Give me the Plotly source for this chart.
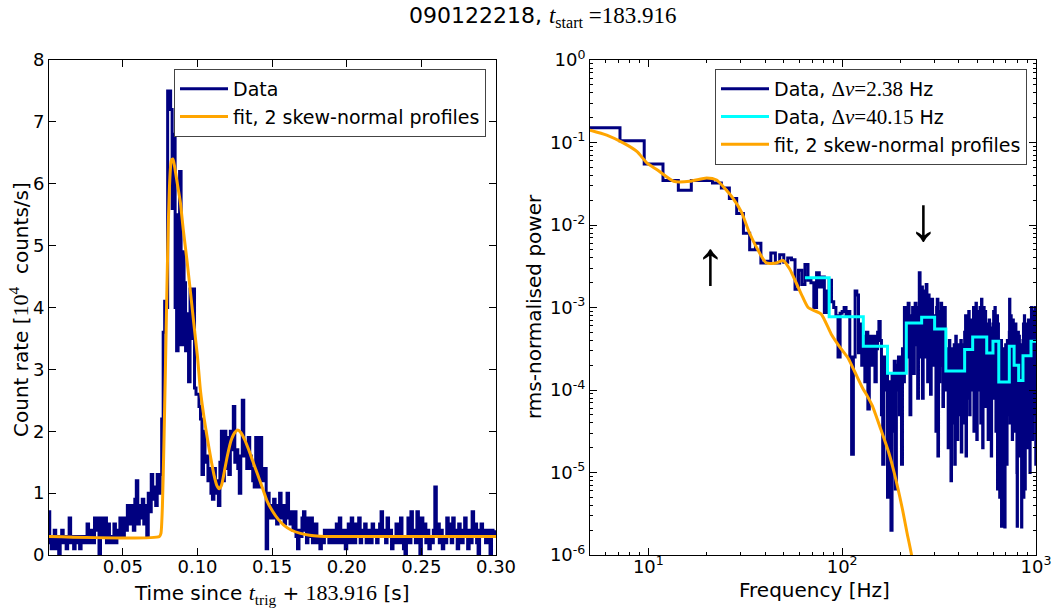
import math
import plotly.graph_objects as go

# ---------------- Left panel: light curve ----------------
BIN_S = 0.001
count_rate = [
    0.7,0.2,0.1,0.3,0.4,0.1,0.3,0.0,0.2,0.4,
    0.2,0.3,0.1,0.2,0.6,0.2,0.3,0.1,0.2,0.3,
    0.2,0.1,0.3,0.2,0.3,0.2,0.5,0.2,0.3,0.4,
    0.2,0.6,0.4,0.6,0.0,0.5,0.6,0.3,0.6,0.2,
    0.5,0.3,0.2,0.3,0.5,0.2,0.4,0.3,0.6,0.4,
    0.3,0.6,0.4,0.8,0.5,0.8,0.7,0.4,0.9,1.2,
    0.5,0.8,0.6,0.9,0.5,0.8,0.3,1.0,0.7,1.3,
    0.9,1.1,0.8,1.3,1.0,1.3,2.2,3.6,4.1,4.0,
    7.5,7.5,7.2,5.6,6.8,4.0,3.3,5.5,6.2,3.4,
    4.9,4.4,3.3,3.9,2.8,4.3,3.5,4.3,2.7,2.6,
    2.6,2.4,2.2,1.3,2.0,1.5,1.6,1.2,1.4,1.0,
    0.9,1.4,1.0,1.2,0.8,1.5,2.0,1.2,2.0,1.4,
    1.9,1.3,2.0,1.7,2.4,1.5,1.7,1.4,1.0,1.6,
    2.5,1.6,1.8,1.4,1.9,1.6,1.4,1.2,1.1,1.9,
    1.3,1.1,1.9,1.3,1.2,1.4,0.1,1.0,0.6,0.8,
    0.6,0.9,0.6,0.5,0.8,1.0,0.6,0.8,0.5,0.7,
    1.0,0.6,0.5,0.7,0.4,0.7,0.3,0.1,0.4,0.3,
    0.6,0.7,0.4,0.2,0.6,0.3,0.6,0.2,0.4,0.5,
    0.2,0.3,0.1,0.3,0.2,0.4,0.3,0.4,0.2,0.3,
    0.4,0.2,0.3,0.5,0.2,0.6,0.3,0.2,0.4,0.1,
    0.3,0.5,0.2,0.6,0.3,0.2,0.5,0.3,0.6,0.2,
    0.4,0.3,0.5,0.2,0.4,0.3,0.2,0.5,0.3,0.4,
    0.2,0.3,0.5,0.7,0.3,0.4,0.2,0.6,0.3,0.4,
    0.1,0.3,0.2,0.5,0.3,0.2,0.6,0.3,0.1,0.0,
    0.3,0.6,0.2,0.7,0.3,0.4,0.2,0.7,0.3,0.0,
    0.6,0.3,0.5,0.2,0.4,0.1,0.3,0.2,0.4,1.1,
    0.3,0.5,0.2,0.4,0.1,0.3,0.2,0.6,0.3,0.5,
    0.2,0.6,0.3,0.4,0.1,0.5,0.3,0.2,0.4,0.6,
    0.3,0.1,0.4,0.2,0.7,0.3,0.5,0.2,0.0,0.4,
    0.5,0.3,0.4,0.2,0.4,0.3,0.0,0.4,0.3,0.4,
]
time_s = [BIN_S * i for i in range(len(count_rate))]

fit_time = [0.000, 0.0745, 0.0755, 0.0765, 0.0775, 0.0785, 0.0795, 0.0805, 0.0815,
            0.0825, 0.0835, 0.0845, 0.0865, 0.0885, 0.0905, 0.0930, 0.0955, 0.0975,
            0.1000, 0.1020, 0.1045, 0.1065, 0.1090, 0.1110, 0.1130, 0.1145, 0.1160,
            0.1180, 0.1200, 0.1225, 0.1250, 0.1270, 0.1290, 0.1315, 0.1340, 0.1370,
            0.1400, 0.1430, 0.1465, 0.1500, 0.1540, 0.1580, 0.1630, 0.1690, 0.1750,
            0.1820, 0.1900, 0.3000]
fit_rate = [0.30, 0.30, 0.35, 0.8, 1.8, 3.0, 4.3, 5.4, 6.1,
            6.38, 6.40, 6.30, 6.0, 5.7, 5.25, 4.75, 4.2, 3.75,
            3.2, 2.65, 2.2, 1.9, 1.55, 1.3, 1.12, 1.07, 1.12,
            1.35, 1.6, 1.85, 1.98, 2.02, 1.98, 1.87, 1.72, 1.52,
            1.32, 1.12, 0.88, 0.72, 0.58, 0.48, 0.40, 0.35, 0.32,
            0.305, 0.30, 0.30]

time_ticks = [0.05, 0.10, 0.15, 0.20, 0.25, 0.30]
time_tick_labels = ["0.05", "0.10", "0.15", "0.20", "0.25", "0.30"]

# ---------------- Right panel: power spectrum ----------------
DF_FINE = 2.38   # Hz, first fine bin k=2
power_log10 = [
    -0.82,-0.98,-1.26,-1.46,-1.58,-1.46,-1.46,-1.49,-1.55,-1.68,
    -1.86,-2.10,-2.30,-2.22,-2.46,-2.44,-2.34,-2.46,-2.36,-2.45,
    -2.40,-2.42,-2.78,-2.55,-2.72,-2.48,-2.67,-2.70,-3.00,-2.58,
    -2.75,-2.63,-3.06,-2.80,-2.67,-2.93,-3.00,-3.10,-3.60,-3.07,
    -3.05,-3.00,-3.10,-3.05,-3.60,-4.78,-3.60,-2.80,-2.85,-3.55,
    -3.20,-3.70,-3.35,-3.90,-3.30,-4.23,-3.35,-3.40,-3.70,-3.35,
    -3.90,-3.50,-3.30,-3.17,-3.40,-4.30,-4.90,-3.60,-4.00,-3.70,
    -5.30,-3.90,-5.00,-5.70,-3.80,-4.50,-3.65,-5.20,-3.70,-4.00,
    -3.60,-4.30,-3.80,-4.90,-3.50,-3.90,-3.00,-3.30,-3.05,-3.60,
    -2.95,-3.30,-4.30,-3.10,-3.50,-3.00,-3.80,-3.20,-2.95,-3.45,
    -3.15,-4.10,-3.00,-2.58,-3.30,-3.60,-2.75,-4.10,-3.00,-2.80,
    -3.30,-3.60,-2.72,-3.10,-3.90,-2.85,-3.40,-3.00,-4.05,-3.20,
    -2.90,-3.50,-3.25,-3.70,-3.10,-3.50,-4.50,-3.00,-2.90,-4.80,
    -3.30,-3.90,-3.05,-3.40,-2.95,-3.70,-3.20,-4.20,-3.10,-3.35,
    -3.00,-3.80,-3.50,-4.00,-3.50,-3.90,-4.70,-3.60,-3.40,-4.20,
    -3.70,-5.10,-3.55,-3.90,-3.50,-4.40,-3.65,-3.45,-4.90,-3.75,
    -3.35,-4.10,-3.60,-4.60,-3.50,-3.80,-3.45,-4.30,-3.70,-3.95,
    -3.40,-4.75,-3.60,-3.50,-4.00,-3.55,-4.40,-3.45,-3.30,-3.90,
    -3.10,-4.80,-3.40,-3.70,-3.20,-4.10,-3.50,-3.05,-3.80,-4.30,
    -3.35,-3.60,-3.15,-4.00,-3.45,-3.70,-3.20,-3.60,-3.00,-4.50,
    -3.30,-3.10,-3.90,-3.40,-2.95,-3.70,-4.60,-3.25,-3.05,-3.50,
    -4.00,-3.15,-3.45,-3.80,-3.00,-3.35,-4.40,-3.20,-2.90,-3.60,
    -3.30,-4.70,-3.10,-3.45,-3.00,-3.85,-3.30,-4.20,-3.05,-3.50,
    -3.20,-3.90,-3.40,-4.00,-3.20,-3.70,-4.60,-3.30,-3.55,-3.15,
    -4.20,-3.60,-3.35,-3.90,-3.25,-4.80,-3.50,-3.30,-3.75,-3.45,
    -3.20,-3.60,-3.05,-4.10,-3.30,-3.50,-3.00,-3.90,-3.25,-4.50,
    -3.15,-3.40,-3.70,-3.10,-5.20,-4.00,-3.20,-3.55,-3.70,-4.30,
    -3.50,-5.30,-3.90,-3.60,-4.60,-3.80,-3.40,-5.65,-3.75,-5.00,
    -3.65,-3.95,-3.50,-4.40,-3.85,-3.55,-4.20,-3.70,-5.66,-3.60,
    -3.90,-3.45,-4.50,-3.80,-3.60,-4.90,-3.70,-3.40,-4.00,-3.75,
    -4.30,-3.55,-3.90,-3.65,-3.30,-2.90,-3.70,-4.40,-3.25,-3.50,
    -3.10,-4.00,-3.40,-3.60,-3.20,-4.60,-3.35,-3.80,-3.15,-3.55,
    -4.10,-3.40,-3.50,-3.90,-3.30,-4.50,-3.60,-3.75,-3.20,-4.20,
    -3.55,-3.85,-3.40,-5.00,-5.65,-3.45,-4.10,-3.60,-3.30,-3.95,
    -3.60,-4.20,-3.35,-3.90,-4.80,-3.70,-3.50,-4.40,-3.80,-3.55,
    -4.10,-3.65,-5.66,-3.75,-4.00,-3.45,-4.60,-3.70,-3.40,-3.80,
    -3.20,-5.30,-3.50,-3.65,-3.10,-4.00,-3.45,-5.20,-3.35,-3.70,
    -3.25,-4.10,-3.55,-3.30,-4.50,-3.60,-3.20,-3.90,-3.45,-4.70,
    -3.35,-3.60,-3.15,-4.20,-3.50,-3.75,-3.30,-4.00,-3.40,-5.00,
    -3.55,-3.25,-3.85,-3.45,-3.20,-3.60,-3.00,-4.10,-3.30,-3.45,
    -3.05,-4.60,-3.35,-3.15,-3.70,-3.25,-4.00,-3.10,-3.50,-3.30,
    -4.30,-3.20,-3.55,-3.00,-3.80,-3.35,-3.50,-4.90,-3.40,
]
freq_fine = [DF_FINE * (k + 2) for k in range(len(power_log10))]
power_fine = [10 ** v for v in power_log10]

freq_coarse = [64.26, 85.68, 128.52, 171.36, 214.2, 257.04, 299.88, 342.72, 385.56,
               428.4, 471.24, 514.08, 556.92, 599.76, 642.6, 685.44, 728.28, 771.12,
               813.96, 856.8, 899.64, 942.48, 985.32, 1028.16]
power_coarse = [2.3e-3, 7.7e-4, 3.4e-4, 1.6e-4, 6.5e-4, 7.6e-4, 5.5e-4, 1.7e-4, 1.7e-4,
                3.1e-4, 4.4e-4, 4.4e-4, 2.8e-4, 3.9e-4, 1.25e-4, 1.25e-4, 3.4e-4, 2.0e-4,
                1.3e-4, 2.6e-4, 2.6e-4, 3.9e-4, 3.9e-4, 3.9e-4]

fit_freq = [5.0, 6.1, 7.5, 8.75, 9.85, 11.1, 13.5, 16.4, 20.0, 22.5, 25.3, 27.4, 30.2,
            33.3, 37.5, 40.6, 45.7, 49.5, 53.5, 57.9, 61.6, 66.7, 72.2, 78.0, 87.7, 96.6,
            107, 115.6, 127, 135.3, 143, 158.4, 174, 185.4, 204, 216, 228, 240]
fit_power_log10 = [-0.85, -0.91, -1.01, -1.11, -1.25, -1.33, -1.47, -1.47, -1.43, -1.455,
                   -1.58, -1.68, -1.84, -2.10, -2.34, -2.46, -2.46, -2.43, -2.53, -2.70,
                   -2.84, -3.00, -3.04, -3.08, -3.32, -3.47, -3.61, -3.77, -3.97, -4.08,
                   -4.19, -4.48, -4.76, -5.00, -5.43, -5.73, -6.00, -6.35]
fit_power = [10 ** v for v in fit_power_log10]

freq_ticks = [10, 100, 1000]
freq_tick_labels = ["10<sup>1</sup>", "10<sup>2</sup>", "10<sup>3</sup>"]
power_ticks = [1e-6, 1e-5, 1e-4, 1e-3, 1e-2, 1e-1, 1]
power_tick_labels = ["10<sup>-6</sup>", "10<sup>-5</sup>", "10<sup>-4</sup>", "10<sup>-3</sup>",
                     "10<sup>-2</sup>", "10<sup>-1</sup>", "10<sup>0</sup>"]
freq_minor = [m * 10 ** e for e in (0, 1, 2) for m in range(2, 10)]
power_minor = [m * 10.0 ** e for e in range(-6, 0) for m in range(2, 10)]

arrow_up = dict(f=20.8, p=10 ** -2.465)
arrow_down = dict(f=263.0, p=10 ** -1.93)

NAVY = "#000080"
ORANGE = "#FFA500"
CYAN = "#00FFFF"
SERIF = "Liberation Serif"
FONT = "DejaVu Sans"

def serif(s, size=None):
    if size:
        return "<span style='font-family:%s;font-size:%dpx'>%s</span>" % (SERIF, size, s)
    return "<span style='font-family:%s'>%s</span>" % (SERIF, s)

fig = go.Figure()
fig.add_trace(go.Scatter(x=time_s, y=count_rate, mode="lines", line=dict(color=NAVY, width=3, shape="hv"),
                         name="Data", xaxis="x", yaxis="y", legend="legend"))
fig.add_trace(go.Scatter(x=fit_time, y=fit_rate, mode="lines",
                         line=dict(color=ORANGE, width=3, shape="spline", smoothing=0.6),
                         name="fit, 2 skew-normal profiles", xaxis="x", yaxis="y", legend="legend"))

fig.add_trace(go.Scatter(x=freq_fine, y=power_fine, mode="lines", line=dict(color=NAVY, width=3, shape="hv"),
                         name="Data, " + serif("Δ<i>ν</i>=2.38", 21) + " Hz", xaxis="x2", yaxis="y2",
                         legend="legend2"))
fig.add_trace(go.Scatter(x=freq_coarse, y=power_coarse, mode="lines", line=dict(color=CYAN, width=3, shape="hv"),
                         name="Data, " + serif("Δ<i>ν</i>=40.15", 21) + " Hz", xaxis="x2", yaxis="y2",
                         legend="legend2"))
fig.add_trace(go.Scatter(x=fit_freq, y=fit_power, mode="lines",
                         line=dict(color=ORANGE, width=3, shape="spline", smoothing=0.6),
                         name="fit, 2 skew-normal profiles", xaxis="x2", yaxis="y2", legend="legend2"))

axis_common = dict(showline=True, linecolor="black", linewidth=1, mirror="ticks", ticks="inside",
                   ticklen=7, tickcolor="black", showgrid=False, zeroline=False, automargin=False,
                   tickfont=dict(family=FONT, size=18, color="black"))

W, H = 1056, 612
ml, mr, mt, mb = 49, 20, 60, 57
pw = W - ml - mr
ph = H - mt - mb

def px_to_paper(xp, yp):
    return (xp - ml) / pw, (H - mb - yp) / ph

fig.update_layout(
    width=W, height=H,
    margin=dict(l=ml, r=mr, t=mt, b=mb, autoexpand=False),
    paper_bgcolor="white", plot_bgcolor="white",
    font=dict(family=FONT, size=18, color="black"),
    xaxis=dict(domain=[0, (496 - ml) / pw], range=[0.0005, 0.300], tickvals=time_ticks,
               ticktext=time_tick_labels, anchor="y", ticklabelstandoff=-5, **axis_common),
    yaxis=dict(domain=[0, 1], range=[0, 8], dtick=1, anchor="x", **axis_common),
    xaxis2=dict(domain=[(590 - ml) / pw, 1], type="log", range=[math.log10(5), 3], tickvals=freq_ticks,
                ticktext=freq_tick_labels, anchor="y2", ticklabelstandoff=-5,
                minor=dict(tickvals=freq_minor, ticks="inside", ticklen=3, tickcolor="black", showgrid=False),
                **axis_common),
    yaxis2=dict(domain=[0, 1], type="log", range=[-6, 0], tickvals=power_ticks, ticktext=power_tick_labels,
                anchor="x2",
                minor=dict(tickvals=power_minor, ticks="inside", ticklen=3, tickcolor="black", showgrid=False),
                **axis_common),
    legend=dict(x=(486 - ml) / pw, xanchor="right", y=1 - 9 / ph, yanchor="top", itemwidth=48,
                bgcolor="white", bordercolor="#444", borderwidth=1,
                font=dict(family=FONT, size=19, color="black")),
    legend2=dict(x=(1027 - ml) / pw, xanchor="right", y=1 - 9 / ph, yanchor="top", itemwidth=48,
                 bgcolor="white", bordercolor="#444", borderwidth=1,
                 font=dict(family=FONT, size=19, color="black")),
    showlegend=True,
)

# figure title
tx, ty = px_to_paper(543, 17)
fig.add_annotation(x=tx, y=ty, xref="paper", yref="paper", xanchor="center", yanchor="middle",
                   text="090122218, " + serif("<i>t</i><sub>start</sub> =183.916", 23), showarrow=False,
                   font=dict(family=FONT, size=22))

# axis titles
ax1x, ax1y = px_to_paper(272, 594)
fig.add_annotation(x=ax1x, y=ax1y, xref="paper", yref="paper", xanchor="center", yanchor="middle",
                   showarrow=False, font=dict(family=FONT, size=20),
                   text="Time since " + serif("<i>t</i><sub>trig</sub>", 22) + " + " + serif("183.916", 22) + " [s]")
ax2x, ax2y = px_to_paper(814, 590)
fig.add_annotation(x=ax2x, y=ax2y, xref="paper", yref="paper", xanchor="center", yanchor="middle",
                   showarrow=False, font=dict(family=FONT, size=20), text="Frequency [Hz]")
ay1x, ay1y = px_to_paper(19, 310)
fig.add_annotation(x=ay1x, y=ay1y, xref="paper", yref="paper", xanchor="center", yanchor="middle",
                   showarrow=False, font=dict(family=FONT, size=20), textangle=-90,
                   text="Count rate [" + serif("10<sup>4</sup>", 22) + "  counts/s]")
ay2x, ay2y = px_to_paper(534, 307)
fig.add_annotation(x=ay2x, y=ay2y, xref="paper", yref="paper", xanchor="center", yanchor="middle",
                   showarrow=False, font=dict(family=FONT, size=20), textangle=-90,
                   text="rms-normalised power")

fig.add_annotation(x=math.log10(arrow_up["f"]), y=math.log10(arrow_up["p"]), xref="x2", yref="y2",
                   text="↑", showarrow=False, font=dict(family=SERIF, size=62, color="black"))
fig.add_annotation(x=math.log10(arrow_down["f"]), y=math.log10(arrow_down["p"]), xref="x2", yref="y2",
                   text="↓", showarrow=False, font=dict(family=SERIF, size=62, color="black"))

fig.write_html("out.html", config={"displayModeBar": False},
               post_script="document.body.style.margin='0px';document.body.style.padding='0px';")
